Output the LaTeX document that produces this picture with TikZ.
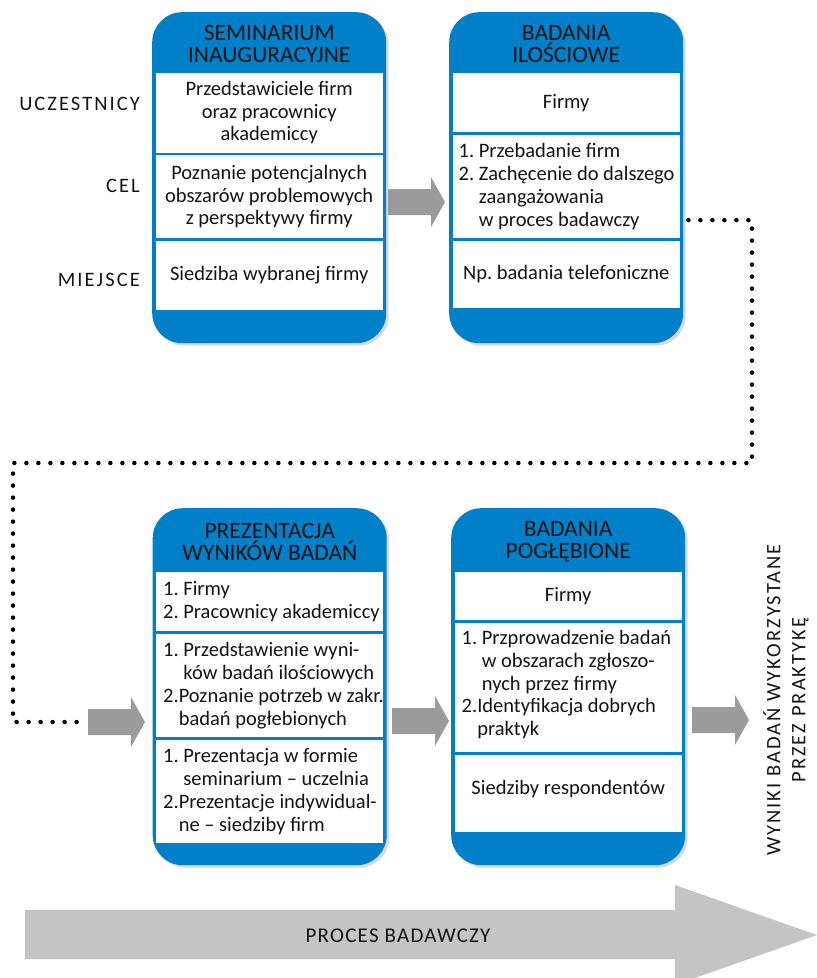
\documentclass[tikz,border=0pt]{standalone}
\usepackage{fontspec}
\setmainfont{Carlito}
\newfontfamily\trackfont[LetterSpace=10]{Carlito}
\newfontfamily\procfont[LetterSpace=6]{Carlito}
\usetikzlibrary{shadows,calc}
\definecolor{cardblue}{RGB}{0,128,200}
\definecolor{arrowgray}{RGB}{155,155,155}
\definecolor{biggray}{RGB}{196,196,196}
\definecolor{inkdark}{RGB}{20,20,20}
\tikzset{
  card/.style={fill=cardblue, rounded corners=30pt, minimum width=234pt, inner sep=0pt, anchor=north west,
    drop shadow={shadow xshift=2.5pt, shadow yshift=-2.5pt, opacity=0.3}},
  head/.style={font=\fontsize{23.5pt}{22pt}\selectfont, align=center, text=inkdark, inner sep=0pt},
  panel/.style={fill=white, anchor=north west, minimum width=227pt, inner sep=0pt},
  cpanel/.style={panel, align=center, font=\fontsize{20.5pt}{22.5pt}\selectfont, text=inkdark},
  ltext/.style={anchor=west, align=left, inner sep=0pt, font=\fontsize{20.5pt}{22.8pt}\selectfont, text=inkdark},
  rowlabel/.style={anchor=base east, font=\trackfont\fontsize{20.5pt}{22pt}\selectfont, text=inkdark, inner sep=0pt},
  dotline/.style={line width=4.5pt, line cap=round, dash pattern=on 0pt off 12pt, black},
  blockarr/.pic={
    \fill[arrowgray] (0,-13) -- (43,-13) -- (43,-25) -- (57,0) -- (43,25) -- (43,13) -- (0,13) -- cycle;
    \coordinate (-tail) at (0,0);
    \coordinate (-tip) at (57,0);
  }
}
\begin{document}
\frenchspacing
\begin{tikzpicture}[x=1pt,y=-1pt]
\useasboundingbox (0,0) rectangle (817,978);
\clip (0,0) rectangle (817,978);

% ---------- cards ----------
\node[card, minimum height=331pt] (c1) at (152,12) {};
\node[card, minimum height=331pt] (c2) at (449,12) {};
\node[card, minimum height=357pt] (c3) at (152.5,508) {};
\node[card, minimum height=357pt] (c4) at (451,508) {};

% headers
\node[head] (h1) at ($(c1.north)+(0,32)$) {SEMINARIUM\\INAUGURACYJNE};
\node[head] (h2) at ($(c2.north)+(0,32)$) {BADANIA\\ILOŚCIOWE};
\node[head] (h3) at ($(c3.north)+(0,34)$) {PREZENTACJA\\WYNIKÓW BADAŃ};
\node[head] (h4) at ($(c4.north)+(0,34)$) {BADANIA\\POGŁĘBIONE};

% card 1 panels
\node[cpanel, minimum height=79.5pt] (c1p1) at (155.5,73) {Przedstawiciele firm\\oraz pracownicy\\akademiccy};
\node[cpanel, minimum height=83pt] (c1p2) at (155.5,155) {Poznanie potencjalnych\\obszarów problemowych\\z perspektywy firmy};
\node[cpanel, minimum height=69.5pt] (c1p3) at (155.5,240.5) {Siedziba wybranej firmy};

% card 2 panels
\node[cpanel, minimum height=59pt] (c2p1) at (452.5,73) {Firmy};
\node[panel, minimum height=103pt] (c2p2) at (452.5,135) {};
\node[ltext] (t2p2) at ($(c2p2.west)+(6,0)$) {1. Przebadanie firm\\2. Zachęcenie do dalszego\\\phantom{1. }zaangażowania\\\phantom{1. }w proces badawczy};
\node[cpanel, minimum height=67.5pt] (c2p3) at (452.5,240.5) {Np. badania telefoniczne};

% card 3 panels
\node[panel, minimum height=59pt] (c3p1) at (156,572) {};
\node[ltext] (t3p1) at ($(c3p1.west)+(7,0)$) {1. Firmy\\2. Pracownicy akademiccy};
\node[panel, minimum height=103pt] (c3p2) at (156,634) {};
\node[ltext] (t3p2) at ($(c3p2.west)+(7,0)$) {1. Przedstawienie wyni-\\\phantom{1. }ków badań ilościowych\\2.Poznanie potrzeb w zakr.\\\phantom{2.}badań pogłebionych};
\node[panel, minimum height=103pt] (c3p3) at (156,740) {};
\node[ltext] (t3p3) at ($(c3p3.west)+(7,0)$) {1. Prezentacja w formie\\\phantom{1. }seminarium – uczelnia\\2.Prezentacje indywidual-\\\phantom{2.}ne – siedziby firm};

% card 4 panels
\node[cpanel, minimum height=48pt] (c4p1) at (454.5,572) {Firmy};
\node[panel, minimum height=129pt] (c4p2) at (454.5,623) {};
\node[ltext] (t4p2) at ($(c4p2.west)+(7,-3)$) {1. Przprowadzenie badań\\\phantom{1. }w obszarach zgłoszo-\\\phantom{1. }nych przez firmy\\2.Identyfikacja dobrych\\\phantom{2.}praktyk};
\node[cpanel, minimum height=77pt, text depth=12pt] (c4p3) at (454.5,755) {Siedziby respondentów};

% row labels
\node[rowlabel] (lu) at (140,110) {UCZESTNICY};
\node[rowlabel] (lc) at (140,192) {CEL};
\node[rowlabel] (lm) at (140,286) {MIEJSCE};

% block arrows
\pic (a1) at (388,202) {blockarr};
\pic (a2) at (88,722) {blockarr};
\pic (a3) at (392,721) {blockarr};
\pic (a4) at (692,720) {blockarr};

% dotted connector from card 2 to the lower row
\coordinate (d0) at ($(c2.east)+(5,42.5)$);
\coordinate (k1) at (752,463);
\coordinate (k2) at (13,722);
\draw[dotline] (d0) -| (k1) -| (k2) -- ($(a2-tail)+(-5,0)$);

% result text
\node[rotate=90, align=center, font=\trackfont\fontsize{20.5pt}{25pt}\selectfont, text=inkdark] (res) at (786,700)
  {WYNIKI BADAŃ WYKORZYSTANE\\PRZEZ PRAKTYKĘ};

% big process arrow
\fill[biggray] (25,910) -- (675,910) -- (675,885) -- (817,935) -- (675,985) -- (675,959) -- (25,959) -- cycle;
\node[font=\procfont\fontsize{21pt}{22pt}\selectfont, text=inkdark] (proc) at (398,936) {PROCES BADAWCZY};
\end{tikzpicture}
\end{document}
